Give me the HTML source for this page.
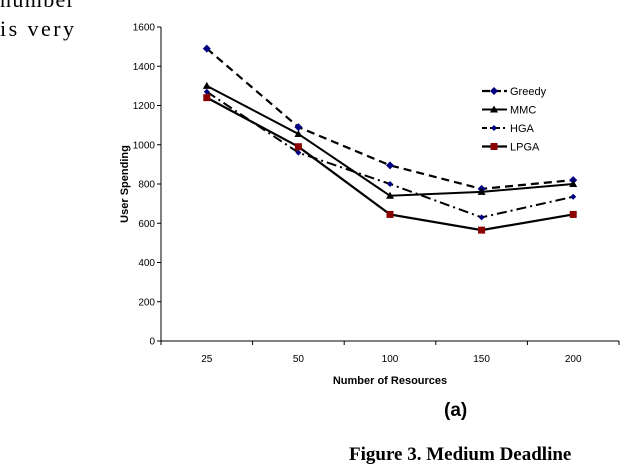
<!DOCTYPE html>
<html><head><meta charset="utf-8"><style>
body{margin:0;background:#fff;width:620px;height:470px;overflow:hidden;position:relative}
.t{position:absolute;font-family:"Liberation Serif",serif;color:#000;white-space:nowrap}
</style></head><body>
<svg width="160" height="50" style="position:absolute;left:0;top:0">
<text x="0" y="7" font-family="Liberation Serif,serif" font-size="22" textLength="74">number</text>
<text x="0" y="36" font-family="Liberation Serif,serif" font-size="22" textLength="74">is very</text>
</svg>
<svg id="c" width="620" height="470" style="position:absolute;left:0;top:0"></svg>
<div class="t" style="left:444px;top:400px;font-size:19px;font-weight:bold;font-family:'Liberation Sans',sans-serif">(a)</div>
<div class="t" style="left:349px;top:444px;font-size:19px;font-weight:bold">Figure 3. Medium Deadline</div>
<script>
const categories=["25","50","100","150","200"];
const yTicks=[0,200,400,600,800,1000,1200,1400,1600];
const greedy=[1490,1090,895,775,820];
const mmc=[1300,1055,740,760,800];
const hga=[1270,960,800,630,735];
const lpga=[1240,990,645,565,645];
const NS="http://www.w3.org/2000/svg";
const svg=document.getElementById('c');
const x0=161,x1=619,yB=341,yT=27;
const bw=(x1-x0)/categories.length;
const X=i=>x0+bw*(i+0.5);
const Y=v=>yB-(v/1600)*(yB-yT);
function el(t,a,p){const e=document.createElementNS(NS,t);for(const k in a)e.setAttribute(k,a[k]);(p||svg).appendChild(e);return e;}
el('line',{x1:x0,y1:yT,x2:x0,y2:yB,stroke:'#000'});
el('line',{x1:x0,y1:yB,x2:x1,y2:yB,stroke:'#000'});
yTicks.forEach(v=>{
 el('line',{x1:x0-4,y1:Y(v),x2:x0,y2:Y(v),stroke:'#000'});
 const t=el('text',{x:x0-6,y:Y(v)+3.5,'text-anchor':'end','font-size':'10','font-family':'Liberation Sans,sans-serif'});
 t.textContent=v;
 
 
});
for(let i=0;i<=categories.length;i++){el('line',{x1:x0+bw*i,y1:yB,x2:x0+bw*i,y2:yB+4,stroke:'#000'});}
categories.forEach((c,i)=>{
 const t=el('text',{x:X(i),y:yB+21,'text-anchor':'middle','font-size':'10','font-family':'Liberation Sans,sans-serif'});
 t.textContent=c;
 
 
});
const xt=el('text',{x:390,y:384,'text-anchor':'middle','font-size':'11','font-weight':'bold','font-family':'Liberation Sans,sans-serif'});
xt.textContent='Number of Resources';


const yt=el('text',{x:0,y:0,'text-anchor':'middle','font-size':'11','font-weight':'bold','font-family':'Liberation Sans,sans-serif',transform:'translate(128,184) rotate(-90)'});
yt.textContent='User Spending';


const series=[
 {name:'Greedy',d:greedy,dash:'8,5',w:2.2,m:'diamond',c:'#000080'},
 {name:'MMC',d:mmc,dash:'',w:2,m:'tri',c:'#000'},
 {name:'HGA',d:hga,dash:'10,4,2,4',w:2,m:'sdiamond',c:'#000080'},
 {name:'LPGA',d:lpga,dash:'',w:2.2,m:'square',c:'#8b0000'}];
function marker(type,x,y,c,g){
 if(type==='diamond')el('polygon',{points:`${x},${y-4} ${x+4},${y} ${x},${y+4} ${x-4},${y}`,fill:c},g);
 else if(type==='sdiamond')el('polygon',{points:`${x},${y-3} ${x+3},${y} ${x},${y+3} ${x-3},${y}`,fill:c},g);
 else if(type==='tri')el('polygon',{points:`${x},${y-4} ${x+4},${y+3} ${x-4},${y+3}`,fill:c},g);
 else el('rect',{x:x-3.5,y:y-3.5,width:7,height:7,fill:c},g);
}
series.forEach((s,k)=>{
 const g=el('g',{});
 
 
 el('polyline',{points:s.d.map((v,i)=>X(i)+','+Y(v)).join(' '),fill:'none',stroke:'#000','stroke-width':s.w,'stroke-dasharray':s.dash},g);
 s.d.forEach((v,i)=>marker(s.m,X(i),Y(v),s.c,g));
 const ly=91+k*18.5;
 const lg=el('g',{});
 
 
 el('line',{x1:482,y1:ly,x2:507,y2:ly,stroke:'#000','stroke-width':s.w,'stroke-dasharray':s.dash?(k===2?'5,3,2,3':'8,3'):''},lg);
 marker(s.m,494,ly,s.c,lg);
 const t=el('text',{x:510,y:ly+4,'font-size':'11','font-family':'Liberation Sans,sans-serif'},lg);
 t.textContent=s.name;
});
</script>
</body></html>
